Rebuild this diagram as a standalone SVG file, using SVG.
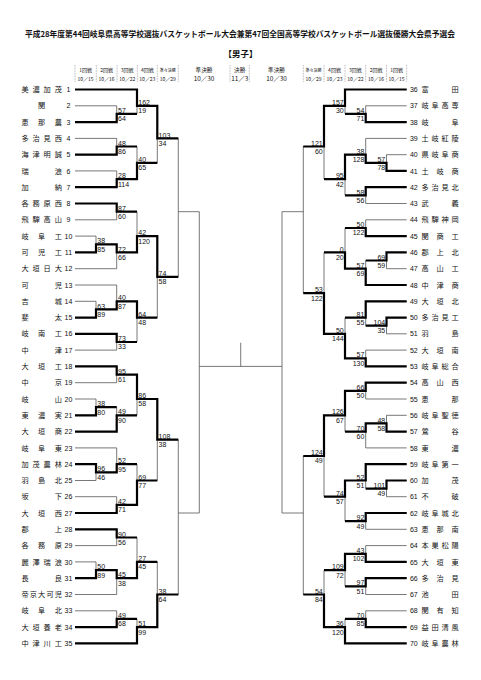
<svg xmlns="http://www.w3.org/2000/svg" width="481" height="680" viewBox="0 0 481 680">
<style>
text{font-family:"Noto Sans CJK JP","Liberation Sans",sans-serif;fill:#111}
.nm{font-size:7.2px;text-anchor:middle}
.no{font-size:7px;text-anchor:middle;font-family:"Liberation Sans","Noto Sans CJK JP",sans-serif}
.s{font-size:7px;font-family:"Liberation Sans",sans-serif}
.sr{text-anchor:end}
.thin{fill:none;stroke:#555;stroke-width:0.8}
.thick{fill:none;stroke:#000;stroke-width:2.2;stroke-linejoin:miter}
.sep{stroke:#777;stroke-width:0.6;stroke-dasharray:0.8 0.8}
.h1{font-size:5px;text-anchor:middle}
.h2{font-size:4px;text-anchor:middle}
.h3{font-size:5.6px;text-anchor:middle}
.hd{font-size:6.4px;text-anchor:middle}
</style>
<rect width="481" height="680" fill="#fff"/>
<g id="header">
<text x="25" y="37" font-size="8" font-weight="bold" textLength="430" lengthAdjust="spacingAndGlyphs">平成28年度第44回岐阜県高等学校選抜バスケットボール大会兼第47回全国高等学校バスケットボール選抜優勝大会県予選会</text>
<text x="240.5" y="57" font-size="8.5" font-weight="bold" text-anchor="middle">【男子】</text>
<g id="col-heads">
<line class="sep" x1="75" y1="65" x2="75" y2="82"/><line class="sep" x1="96.3" y1="65" x2="96.3" y2="82"/><line class="sep" x1="117" y1="65" x2="117" y2="82"/><line class="sep" x1="137.3" y1="65" x2="137.3" y2="82"/><line class="sep" x1="157.3" y1="65" x2="157.3" y2="82"/><line class="sep" x1="178.3" y1="65" x2="178.3" y2="82"/>
<line class="sep" x1="230" y1="65" x2="230" y2="82"/><line class="sep" x1="249.3" y1="65" x2="249.3" y2="82"/>
<line class="sep" x1="303.3" y1="65" x2="303.3" y2="82"/><line class="sep" x1="324" y1="65" x2="324" y2="82"/><line class="sep" x1="345" y1="65" x2="345" y2="82"/><line class="sep" x1="365.7" y1="65" x2="365.7" y2="82"/><line class="sep" x1="386.5" y1="65" x2="386.5" y2="82"/><line class="sep" x1="406.7" y1="65" x2="406.7" y2="82"/>
<text class="h1" x="85.6" y="72">1回戦</text><text class="h1" x="85.6" y="80.5">10／15</text>
<text class="h1" x="106.6" y="72">2回戦</text><text class="h1" x="106.6" y="80.5">10／16</text>
<text class="h1" x="127.2" y="72">3回戦</text><text class="h1" x="127.2" y="80.5">10／22</text>
<text class="h1" x="147.3" y="72">4回戦</text><text class="h1" x="147.3" y="80.5">10／23</text>
<text class="h2" x="167.8" y="71.5">準々決勝</text><text class="h1" x="167.8" y="80.5">10／29</text>
<text class="h3" x="204" y="72">準決勝</text><text class="hd" x="204" y="81">10／30</text>
<text class="h3" x="239.7" y="72">決勝</text><text class="hd" x="239.7" y="81">11／3</text>
<text class="h3" x="276.5" y="72">準決勝</text><text class="hd" x="276.5" y="81">10／30</text>
<text class="h2" x="313.6" y="71.5">準々決勝</text><text class="h1" x="313.6" y="80.5">10／29</text>
<text class="h1" x="334.5" y="72">4回戦</text><text class="h1" x="334.5" y="80.5">10／23</text>
<text class="h1" x="355.4" y="72">3回戦</text><text class="h1" x="355.4" y="80.5">10／22</text>
<text class="h1" x="376.1" y="72">2回戦</text><text class="h1" x="376.1" y="80.5">10／16</text>
<text class="h1" x="396.6" y="72">1回戦</text><text class="h1" x="396.6" y="80.5">10／15</text>
</g>
</g>
<g id="connectors">
<path class="thin" d="M75 89.5H137M75 105.8H116.7M75 122.1H116.7M75 138.4H116.7M75 154.7H116.7M75 170.9H116.7M75 187.2H116.7M75 203.5H116.7M75 219.8H116.7M75 236.1H96M75 252.4H96M75 268.7H116.7M75 285H116.7M75 301.3H96M75 317.6H96M75 333.8H116.7M75 350.1H116.7M75 366.4H116.7M75 382.7H116.7M75 399H96M75 415.3H96M75 431.6H116.7M75 447.9H116.7M75 464.2H96M75 480.5H96M75 496.7H116.7M75 513H116.7M75 529.3H116.7M75 545.6H116.7M75 561.9H96M75 578.2H96M75 594.5H116.7M75 610.8H116.7M75 627.1H116.7M75 643.4H137
M116.7 105.8V122.1M116.7 113.9H137M137 89.5V113.9M137 105.8H157.3M116.7 138.4V154.7M116.7 146.5H137M116.7 170.9V187.2M116.7 179.1H137M137 146.5V179.1M137 162.8H157.3M157.3 105.8V162.8M157.3 138.4H178.3
M116.7 203.5V219.8M116.7 211.7H137M96 236.1V252.4M96 244.3H116.7M116.7 244.3V268.7M116.7 252.4H137M137 211.7V252.4M137 236.1H157.3M96 301.3V317.6M96 309.4H116.7M116.7 285V309.4M116.7 301.3H137M116.7 333.8V350.1M116.7 342H137M137 301.3V342M137 317.6H157.3M157.3 236.1V317.6M157.3 276.8H178.3M178.3 138.4V276.8M178.3 211.7H199.3
M116.7 366.4V382.7M116.7 374.6H137M96 399V415.3M96 407.2H116.7M116.7 407.2V431.6M116.7 415.3H137M137 374.6V415.3M137 399H157.3M96 464.2V480.5M96 472.3H116.7M116.7 447.9V472.3M116.7 464.2H137M116.7 496.7V513M116.7 504.9H137M137 464.2V504.9M137 480.5H157.3M157.3 399V480.5M157.3 439.7H178.3
M116.7 529.3V545.6M116.7 537.5H137M96 561.9V578.2M96 570.1H116.7M116.7 570.1V594.5M116.7 578.2H137M137 537.5V578.2M137 561.9H157.3M116.7 610.8V627.1M116.7 618.9H137M137 618.9V643.4M137 627.1H157.3M157.3 561.9V627.1M157.3 594.5H178.3M178.3 439.7V594.5M178.3 513H199.3M199.3 211.7V513
M199.3 366.4H282M240.7 342.7V366.4"/>
<path class="thin" d="M406.7 89.5H345M406.7 105.8H365.7M406.7 122.1H365.7M406.7 138.4H365.7M406.7 154.7H386.5M406.7 170.9H386.5M406.7 187.2H365.7M406.7 203.5H365.7M406.7 219.8H365.7M406.7 236.1H365.7M406.7 252.4H386.5M406.7 268.7H386.5M406.7 285H365.7M406.7 301.3H365.7M406.7 317.6H386.5M406.7 333.8H386.5M406.7 350.1H365.7M406.7 366.4H365.7M406.7 382.7H365.7M406.7 399H365.7M406.7 415.3H386.5M406.7 431.6H386.5M406.7 447.9H365.7M406.7 464.2H365.7M406.7 480.5H386.5M406.7 496.7H386.5M406.7 513H365.7M406.7 529.3H365.7M406.7 545.6H365.7M406.7 561.9H365.7M406.7 578.2H365.7M406.7 594.5H365.7M406.7 610.8H365.7M406.7 627.1H365.7M406.7 643.4H345
M365.7 105.8V122.1M365.7 113.9H345M345 89.5V113.9M345 105.8H324M386.5 154.7V170.9M386.5 162.8H365.7M365.7 138.4V162.8M365.7 154.7H345M365.7 187.2V203.5M365.7 195.4H345M345 154.7V195.4M345 179.1H324M324 105.8V179.1M324 146.5H303.3
M365.7 219.8V236.1M365.7 228H345M386.5 252.4V268.7M386.5 260.5H365.7M365.7 260.5V285M365.7 268.7H345M345 228V268.7M345 252.4H324M386.5 317.6V333.8M386.5 325.7H365.7M365.7 301.3V325.7M365.7 317.6H345M365.7 350.1V366.4M365.7 358.3H345M345 317.6V358.3M345 333.8H324M324 252.4V333.8M324 293.1H303.3M303.3 146.5V293.1M303.3 211.7H282
M365.7 382.7V399M365.7 390.9H345M386.5 415.3V431.6M386.5 423.4H365.7M365.7 423.4V447.9M365.7 431.6H345M345 390.9V431.6M345 415.3H324M386.5 480.5V496.7M386.5 488.6H365.7M365.7 464.2V488.6M365.7 480.5H345M365.7 513V529.3M365.7 521.2H345M345 480.5V521.2M345 496.7H324M324 415.3V496.7M324 456H303.3
M365.7 545.6V561.9M365.7 553.8H345M365.7 578.2V594.5M365.7 586.3H345M345 553.8V586.3M345 570.1H324M365.7 610.8V627.1M365.7 618.9H345M345 618.9V643.4M345 627.1H324M324 570.1V627.1M324 594.5H303.3M303.3 456V594.5M303.3 513H282M282 211.7V513"/>
<path class="thick" d="M75 89.5H137V105.8H157.3V138.4H178.3M75 122.1H116.7V113.9H137M75 154.7H116.7V146.5H137M75 187.2H116.7V179.1H137V162.8H157.3M75 203.5H116.7V211.7H137M75 252.4H96V244.3H116.7V252.4H137V236.1H157.3V276.8H178.3M75 317.6H96V309.4H116.7V301.3H137V317.6H157.3M75 333.8H116.7V342H137M75 366.4H116.7V374.6H137V399H157.3V439.7H178.3M75 415.3H96V407.2H116.7M75 431.6H116.7V415.3H137M75 464.2H96V472.3H116.7V464.2H137M75 513H116.7V504.9H137V480.5H157.3M75 529.3H116.7V537.5H137M75 578.2H96V570.1H116.7V578.2H137V561.9H157.3M75 627.1H116.7V618.9H137M75 643.4H137V627.1H157.3V594.5H178.3"/>
<path class="thick" d="M406.7 89.5H345V105.8H324V146.5H303.3M406.7 122.1H365.7V113.9H345M406.7 170.9H386.5V162.8H365.7V154.7H345V179.1H324M406.7 187.2H365.7V195.4H345M406.7 236.1H365.7V228H345M406.7 252.4H386.5V260.5H365.7M406.7 285H365.7V268.7H345V252.4H324M406.7 301.3H365.7V317.6H345M406.7 317.6H386.5V325.7H365.7M406.7 366.4H365.7V358.3H345V333.8H324V293.1H303.3M406.7 382.7H365.7V390.9H345V415.3H324V456H303.3M406.7 431.6H386.5V423.4H365.7V431.6H345M406.7 464.2H365.7V480.5H345V496.7H324M406.7 480.5H386.5V488.6H365.7M406.7 513H365.7V521.2H345M406.7 561.9H365.7V553.8H345V570.1H324M406.7 578.2H365.7V586.3H345M406.7 627.1H365.7V618.9H345M406.7 643.4H345V627.1H324V594.5H303.3"/>
</g>
<g id="scores">
<text class="s" x="118" y="113">57</text><text class="s" x="118" y="121.3">64</text>
<text class="s" x="138.3" y="104.9">162</text><text class="s" x="138.3" y="113.2">19</text>
<text class="s" x="118" y="145.6">48</text><text class="s" x="118" y="153.9">86</text>
<text class="s" x="118" y="178.2">28</text><text class="s" x="118" y="186.5">114</text>
<text class="s" x="138.3" y="161.9">40</text><text class="s" x="138.3" y="170.2">65</text>
<text class="s" x="158.6" y="137.5">103</text><text class="s" x="158.6" y="145.8">34</text>
<text class="s" x="118" y="210.8">87</text><text class="s" x="118" y="219.1">60</text>
<text class="s" x="97.3" y="243.4">38</text><text class="s" x="97.3" y="251.7">85</text>
<text class="s" x="118" y="251.5">72</text><text class="s" x="118" y="259.8">66</text>
<text class="s" x="138.3" y="235.2">42</text><text class="s" x="138.3" y="243.5">120</text>
<text class="s" x="97.3" y="308.5">63</text><text class="s" x="97.3" y="316.8">89</text>
<text class="s" x="118" y="300.4">40</text><text class="s" x="118" y="308.7">87</text>
<text class="s" x="118" y="341.1">73</text><text class="s" x="118" y="349.4">33</text>
<text class="s" x="138.3" y="316.7">64</text><text class="s" x="138.3" y="325">48</text>
<text class="s" x="158.6" y="275.9">74</text><text class="s" x="158.6" y="284.2">58</text>
<text class="s" x="118" y="373.7">95</text><text class="s" x="118" y="382">61</text>
<text class="s" x="97.3" y="406.3">38</text><text class="s" x="97.3" y="414.6">80</text>
<text class="s" x="118" y="414.4">49</text><text class="s" x="118" y="422.7">90</text>
<text class="s" x="138.3" y="398.1">86</text><text class="s" x="138.3" y="406.4">58</text>
<text class="s" x="97.3" y="471.4">96</text><text class="s" x="97.3" y="479.7">46</text>
<text class="s" x="118" y="463.3">52</text><text class="s" x="118" y="471.6">95</text>
<text class="s" x="118" y="504">42</text><text class="s" x="118" y="512.3">71</text>
<text class="s" x="138.3" y="479.6">69</text><text class="s" x="138.3" y="487.9">77</text>
<text class="s" x="158.6" y="438.8">108</text><text class="s" x="158.6" y="447.1">38</text>
<text class="s" x="118" y="536.6">90</text><text class="s" x="118" y="544.9">56</text>
<text class="s" x="97.3" y="569.2">50</text><text class="s" x="97.3" y="577.5">89</text>
<text class="s" x="118" y="577.3">45</text><text class="s" x="118" y="585.6">38</text>
<text class="s" x="138.3" y="561">27</text><text class="s" x="138.3" y="569.3">45</text>
<text class="s" x="118" y="618">49</text><text class="s" x="118" y="626.3">68</text>
<text class="s" x="138.3" y="626.2">51</text><text class="s" x="138.3" y="634.5">99</text>
<text class="s" x="158.6" y="593.6">38</text><text class="s" x="158.6" y="601.9">64</text>
<text class="s sr" x="364.4" y="113">54</text><text class="s sr" x="364.4" y="121.3">71</text>
<text class="s sr" x="343.7" y="104.9">157</text><text class="s sr" x="343.7" y="113.2">30</text>
<text class="s sr" x="385.2" y="161.9">57</text><text class="s sr" x="385.2" y="170.2">78</text>
<text class="s sr" x="364.4" y="153.8">38</text><text class="s sr" x="364.4" y="162.1">128</text>
<text class="s sr" x="364.4" y="194.5">58</text><text class="s sr" x="364.4" y="202.8">56</text>
<text class="s sr" x="343.7" y="178.2">95</text><text class="s sr" x="343.7" y="186.5">42</text>
<text class="s sr" x="322.7" y="145.6">121</text><text class="s sr" x="322.7" y="153.9">60</text>
<text class="s sr" x="364.4" y="227.1">50</text><text class="s sr" x="364.4" y="235.4">122</text>
<text class="s sr" x="385.2" y="259.6">69</text><text class="s sr" x="385.2" y="267.9">59</text>
<text class="s sr" x="364.4" y="267.8">57</text><text class="s sr" x="364.4" y="276.1">69</text>
<text class="s sr" x="343.7" y="251.5">0</text><text class="s sr" x="343.7" y="259.8">20</text>
<text class="s sr" x="385.2" y="324.8">104</text><text class="s sr" x="385.2" y="333.1">35</text>
<text class="s sr" x="364.4" y="316.7">81</text><text class="s sr" x="364.4" y="325">55</text>
<text class="s sr" x="364.4" y="357.4">57</text><text class="s sr" x="364.4" y="365.7">130</text>
<text class="s sr" x="343.7" y="332.9">50</text><text class="s sr" x="343.7" y="341.2">144</text>
<text class="s sr" x="322.7" y="292.2">53</text><text class="s sr" x="322.7" y="300.5">122</text>
<text class="s sr" x="364.4" y="390">66</text><text class="s sr" x="364.4" y="398.3">50</text>
<text class="s sr" x="385.2" y="422.5">48</text><text class="s sr" x="385.2" y="430.8">58</text>
<text class="s sr" x="364.4" y="430.7">70</text><text class="s sr" x="364.4" y="439">60</text>
<text class="s sr" x="343.7" y="414.4">126</text><text class="s sr" x="343.7" y="422.7">67</text>
<text class="s sr" x="385.2" y="487.7">101</text><text class="s sr" x="385.2" y="496">49</text>
<text class="s sr" x="364.4" y="479.6">52</text><text class="s sr" x="364.4" y="487.9">51</text>
<text class="s sr" x="364.4" y="520.3">92</text><text class="s sr" x="364.4" y="528.6">49</text>
<text class="s sr" x="343.7" y="495.8">74</text><text class="s sr" x="343.7" y="504.1">57</text>
<text class="s sr" x="322.7" y="455.1">124</text><text class="s sr" x="322.7" y="463.4">49</text>
<text class="s sr" x="364.4" y="552.9">43</text><text class="s sr" x="364.4" y="561.2">102</text>
<text class="s sr" x="364.4" y="585.4">97</text><text class="s sr" x="364.4" y="593.7">51</text>
<text class="s sr" x="343.7" y="569.2">109</text><text class="s sr" x="343.7" y="577.5">72</text>
<text class="s sr" x="364.4" y="618">70</text><text class="s sr" x="364.4" y="626.3">85</text>
<text class="s sr" x="343.7" y="626.2">36</text><text class="s sr" x="343.7" y="634.5">120</text>
<text class="s sr" x="322.7" y="593.6">54</text><text class="s sr" x="322.7" y="601.9">84</text>
</g>
<g id="t1"><text class="nm" x="25 36.1 47.2 58.3" y="92.1">美濃加茂</text><text class="no" x="68.5" y="92.1">1</text></g>
<g id="t2"><text class="nm" x="41.7" y="108.4">関</text><text class="no" x="68.5" y="108.4">2</text></g>
<g id="t3"><text class="nm" x="25 41.7 58.3" y="124.7">恵那農</text><text class="no" x="68.5" y="124.7">3</text></g>
<g id="t4"><text class="nm" x="25 36.1 47.2 58.3" y="141">多治見西</text><text class="no" x="68.5" y="141">4</text></g>
<g id="t5"><text class="nm" x="25 36.1 47.2 58.3" y="157.3">海津明誠</text><text class="no" x="68.5" y="157.3">5</text></g>
<g id="t6"><text class="nm" x="25 58.3" y="173.5">瑞浪</text><text class="no" x="68.5" y="173.5">6</text></g>
<g id="t7"><text class="nm" x="25 58.3" y="189.8">加納</text><text class="no" x="68.5" y="189.8">7</text></g>
<g id="t8"><text class="nm" x="25 36.1 47.2 58.3" y="206.1">各務原西</text><text class="no" x="68.5" y="206.1">8</text></g>
<g id="t9"><text class="nm" x="25 36.1 47.2 58.3" y="222.4">飛騨高山</text><text class="no" x="68.5" y="222.4">9</text></g>
<g id="t10"><text class="nm" x="25 41.7 58.3" y="238.7">岐阜工</text><text class="no" x="68.5" y="238.7">10</text></g>
<g id="t11"><text class="nm" x="25 41.7 58.3" y="255">可児工</text><text class="no" x="68.5" y="255">11</text></g>
<g id="t12"><text class="nm" x="25 36.1 47.2 58.3" y="271.3">大垣日大</text><text class="no" x="68.5" y="271.3">12</text></g>
<g id="t13"><text class="nm" x="25 58.3" y="287.6">可児</text><text class="no" x="68.5" y="287.6">13</text></g>
<g id="t14"><text class="nm" x="25 58.3" y="303.9">吉城</text><text class="no" x="68.5" y="303.9">14</text></g>
<g id="t15"><text class="nm" x="25 58.3" y="320.2">斐太</text><text class="no" x="68.5" y="320.2">15</text></g>
<g id="t16"><text class="nm" x="25 41.7 58.3" y="336.4">岐南工</text><text class="no" x="68.5" y="336.4">16</text></g>
<g id="t17"><text class="nm" x="25 58.3" y="352.7">中津</text><text class="no" x="68.5" y="352.7">17</text></g>
<g id="t18"><text class="nm" x="25 41.7 58.3" y="369">大垣工</text><text class="no" x="68.5" y="369">18</text></g>
<g id="t19"><text class="nm" x="25 58.3" y="385.3">中京</text><text class="no" x="68.5" y="385.3">19</text></g>
<g id="t20"><text class="nm" x="25 58.3" y="401.6">岐山</text><text class="no" x="68.5" y="401.6">20</text></g>
<g id="t21"><text class="nm" x="25 41.7 58.3" y="417.9">東濃実</text><text class="no" x="68.5" y="417.9">21</text></g>
<g id="t22"><text class="nm" x="25 41.7 58.3" y="434.2">大垣商</text><text class="no" x="68.5" y="434.2">22</text></g>
<g id="t23"><text class="nm" x="25 41.7 58.3" y="450.5">岐阜東</text><text class="no" x="68.5" y="450.5">23</text></g>
<g id="t24"><text class="nm" x="25 36.1 47.2 58.3" y="466.8">加茂農林</text><text class="no" x="68.5" y="466.8">24</text></g>
<g id="t25"><text class="nm" x="25 41.7 58.3" y="483.1">羽島北</text><text class="no" x="68.5" y="483.1">25</text></g>
<g id="t26"><text class="nm" x="25 58.3" y="499.3">坂下</text><text class="no" x="68.5" y="499.3">26</text></g>
<g id="t27"><text class="nm" x="25 41.7 58.3" y="515.6">大垣西</text><text class="no" x="68.5" y="515.6">27</text></g>
<g id="t28"><text class="nm" x="25 58.3" y="531.9">郡上</text><text class="no" x="68.5" y="531.9">28</text></g>
<g id="t29"><text class="nm" x="25 41.7 58.3" y="548.2">各務原</text><text class="no" x="68.5" y="548.2">29</text></g>
<g id="t30"><text class="nm" x="25 36.1 47.2 58.3" y="564.5">麗澤瑞浪</text><text class="no" x="68.5" y="564.5">30</text></g>
<g id="t31"><text class="nm" x="25 58.3" y="580.8">長良</text><text class="no" x="68.5" y="580.8">31</text></g>
<g id="t32"><text class="nm" x="25 33.3 41.7 50 58.3" y="597.1">帝京大可児</text><text class="no" x="68.5" y="597.1">32</text></g>
<g id="t33"><text class="nm" x="25 41.7 58.3" y="613.4">岐阜北</text><text class="no" x="68.5" y="613.4">33</text></g>
<g id="t34"><text class="nm" x="25 36.1 47.2 58.3" y="629.7">大垣養老</text><text class="no" x="68.5" y="629.7">34</text></g>
<g id="t35"><text class="nm" x="25 36.1 47.2 58.3" y="646">中津川工</text><text class="no" x="68.5" y="646">35</text></g>
<g id="t36"><text class="no" x="413.8" y="92.1">36</text><text class="nm" x="425 455" y="92.1">富田</text></g>
<g id="t37"><text class="no" x="413.8" y="108.4">37</text><text class="nm" x="425 435 445 455" y="108.4">岐阜高専</text></g>
<g id="t38"><text class="no" x="413.8" y="124.7">38</text><text class="nm" x="425 455" y="124.7">岐阜</text></g>
<g id="t39"><text class="no" x="413.8" y="141">39</text><text class="nm" x="425 435 445 455" y="141">土岐紅陵</text></g>
<g id="t40"><text class="no" x="413.8" y="157.3">40</text><text class="nm" x="425 435 445 455" y="157.3">県岐阜商</text></g>
<g id="t41"><text class="no" x="413.8" y="173.5">41</text><text class="nm" x="425 440 455" y="173.5">土岐商</text></g>
<g id="t42"><text class="no" x="413.8" y="189.8">42</text><text class="nm" x="425 435 445 455" y="189.8">多治見北</text></g>
<g id="t43"><text class="no" x="413.8" y="206.1">43</text><text class="nm" x="425 455" y="206.1">武義</text></g>
<g id="t44"><text class="no" x="413.8" y="222.4">44</text><text class="nm" x="425 435 445 455" y="222.4">飛騨神岡</text></g>
<g id="t45"><text class="no" x="413.8" y="238.7">45</text><text class="nm" x="425 440 455" y="238.7">関商工</text></g>
<g id="t46"><text class="no" x="413.8" y="255">46</text><text class="nm" x="425 440 455" y="255">郡上北</text></g>
<g id="t47"><text class="no" x="413.8" y="271.3">47</text><text class="nm" x="425 440 455" y="271.3">高山工</text></g>
<g id="t48"><text class="no" x="413.8" y="287.6">48</text><text class="nm" x="425 440 455" y="287.6">中津商</text></g>
<g id="t49"><text class="no" x="413.8" y="303.9">49</text><text class="nm" x="425 440 455" y="303.9">大垣北</text></g>
<g id="t50"><text class="no" x="413.8" y="320.2">50</text><text class="nm" x="425 435 445 455" y="320.2">多治見工</text></g>
<g id="t51"><text class="no" x="413.8" y="336.4">51</text><text class="nm" x="425 455" y="336.4">羽島</text></g>
<g id="t52"><text class="no" x="413.8" y="352.7">52</text><text class="nm" x="425 440 455" y="352.7">大垣南</text></g>
<g id="t53"><text class="no" x="413.8" y="369">53</text><text class="nm" x="425 435 445 455" y="369">岐阜総合</text></g>
<g id="t54"><text class="no" x="413.8" y="385.3">54</text><text class="nm" x="425 440 455" y="385.3">高山西</text></g>
<g id="t55"><text class="no" x="413.8" y="401.6">55</text><text class="nm" x="425 455" y="401.6">恵那</text></g>
<g id="t56"><text class="no" x="413.8" y="417.9">56</text><text class="nm" x="425 435 445 455" y="417.9">岐阜聖徳</text></g>
<g id="t57"><text class="no" x="413.8" y="434.2">57</text><text class="nm" x="425 455" y="434.2">鶯谷</text></g>
<g id="t58"><text class="no" x="413.8" y="450.5">58</text><text class="nm" x="425 455" y="450.5">東濃</text></g>
<g id="t59"><text class="no" x="413.8" y="466.8">59</text><text class="nm" x="425 435 445 455" y="466.8">岐阜第一</text></g>
<g id="t60"><text class="no" x="413.8" y="483.1">60</text><text class="nm" x="425 455" y="483.1">加茂</text></g>
<g id="t61"><text class="no" x="413.8" y="499.3">61</text><text class="nm" x="425 455" y="499.3">不破</text></g>
<g id="t62"><text class="no" x="413.8" y="515.6">62</text><text class="nm" x="425 435 445 455" y="515.6">岐阜城北</text></g>
<g id="t63"><text class="no" x="413.8" y="531.9">63</text><text class="nm" x="425 440 455" y="531.9">恵那南</text></g>
<g id="t64"><text class="no" x="413.8" y="548.2">64</text><text class="nm" x="425 435 445 455" y="548.2">本巣松陽</text></g>
<g id="t65"><text class="no" x="413.8" y="564.5">65</text><text class="nm" x="425 440 455" y="564.5">大垣東</text></g>
<g id="t66"><text class="no" x="413.8" y="580.8">66</text><text class="nm" x="425 440 455" y="580.8">多治見</text></g>
<g id="t67"><text class="no" x="413.8" y="597.1">67</text><text class="nm" x="425 455" y="597.1">池田</text></g>
<g id="t68"><text class="no" x="413.8" y="613.4">68</text><text class="nm" x="425 440 455" y="613.4">関有知</text></g>
<g id="t69"><text class="no" x="413.8" y="629.7">69</text><text class="nm" x="425 435 445 455" y="629.7">益田清風</text></g>
<g id="t70"><text class="no" x="413.8" y="646">70</text><text class="nm" x="425 435 445 455" y="646">岐阜農林</text></g>
</svg>
